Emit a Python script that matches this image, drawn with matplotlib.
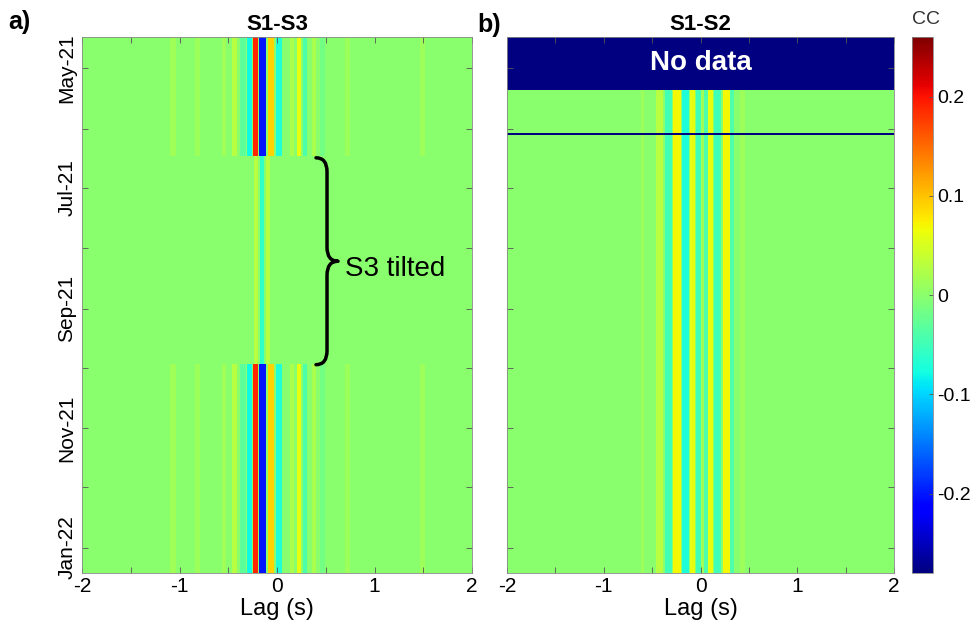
import numpy as np
import matplotlib
matplotlib.use('Agg')
import matplotlib.pyplot as plt
import matplotlib.dates as mdates
from matplotlib.path import Path
from matplotlib.patches import PathPatch
from matplotlib.ticker import MultipleLocator, FuncFormatter

plt.rcParams['font.family'] = ['Liberation Sans', 'DejaVu Sans']
plt.rcParams['axes.unicode_minus'] = False

# ---------------- data ----------------
cc_min, cc_max = -0.28, 0.26
lag_range = (-2.0, 2.0)

# Panel a (S1-S3): time segments and their lag profile type
a_segment_dates = ['2021-04-15', '2021-06-15', '2021-09-29', '2022-01-14']
a_segment_kind = ['normal', 'tilted', 'normal']

# stripes of the normal S1-S3 correlation: lag start, lag end (s), CC
a_normal_lo = [-1.10, -0.84, -0.56, -0.46, -0.38, -0.31, -0.25, -0.175, -0.09, -0.01, 0.13, 0.20, 0.27, 0.36, 0.44, 0.70, 1.47]
a_normal_hi = [-1.04, -0.79, -0.52, -0.41, -0.32, -0.26, -0.185, -0.11, -0.03, 0.05, 0.17, 0.25, 0.31, 0.40, 0.49, 0.75, 1.52]
a_normal_cc = [0.015, 0.012, 0.015, 0.03, -0.03, -0.08, 0.19, -0.20, 0.09, -0.07, 0.02, 0.06, -0.04, 0.02, -0.015, 0.012, 0.012]

# stripes while S3 was tilted
a_tilted_lo = [-0.24, -0.17, -0.11]
a_tilted_hi = [-0.19, -0.13, -0.07]
a_tilted_cc = [0.03, -0.06, 0.03]

# Panel b (S1-S2)
b_segment_dates = ['2021-04-15', '2021-05-12', '2021-06-03', '2021-06-04', '2022-01-14']
b_segment_kind = ['nodata', 'normal', 'nodata', 'normal']

b_normal_lo = [-0.62, -0.46, -0.37, -0.28, -0.19, -0.11, -0.05, 0.01, 0.04, 0.08, 0.14, 0.23, 0.31, 0.41]
b_normal_hi = [-0.58, -0.39, -0.29, -0.20, -0.12, -0.06, 0.00, 0.04, 0.08, 0.13, 0.21, 0.30, 0.35, 0.46]
b_normal_cc = [0.012, 0.03, -0.05, 0.07, -0.07, 0.06, -0.05, 0.015, -0.04, 0.06, -0.05, 0.07, -0.04, 0.012]

month_ticks = ['2021-05-01', '2021-06-01', '2021-07-01', '2021-08-01', '2021-09-01',
               '2021-10-01', '2021-11-01', '2021-12-01', '2022-01-01']
cbar_ticks = [-0.2, -0.1, 0, 0.1, 0.2]

# ---------------- build images ----------------
lag_edges = np.linspace(lag_range[0], lag_range[1], 401)
lag_centers = 0.5 * (lag_edges[:-1] + lag_edges[1:])


def profile(lo, hi, cc):
    v = np.zeros(lag_centers.size)
    for l, h, c in zip(lo, hi, cc):
        v[(lag_centers >= l) & (lag_centers < h)] = c
    return v


profiles_a = {'normal': profile(a_normal_lo, a_normal_hi, a_normal_cc),
              'tilted': profile(a_tilted_lo, a_tilted_hi, a_tilted_cc)}
profiles_b = {'normal': profile(b_normal_lo, b_normal_hi, b_normal_cc),
              'nodata': np.full(lag_centers.size, cc_min)}


def dnum(s):
    return mdates.datestr2num(s)


def build(dates, kinds, profiles):
    edges = np.array([dnum(d) for d in dates])
    C = np.vstack([profiles[k] for k in kinds])
    return edges, C


a_edges, a_C = build(a_segment_dates, a_segment_kind, profiles_a)
b_edges, b_C = build(b_segment_dates, b_segment_kind, profiles_b)

# ---------------- figure ----------------
fig = plt.figure(figsize=(9.72, 6.26), dpi=100)
W, H = 972.0, 626.0
top_px, bot_px = 37, 573
axa = fig.add_axes([82 / W, 1 - bot_px / H, 390 / W, (bot_px - top_px) / H])
axb = fig.add_axes([507 / W, 1 - bot_px / H, 387 / W, (bot_px - top_px) / H])
cax = fig.add_axes([912 / W, 1 - bot_px / H, 21 / W, (bot_px - top_px) / H])

tick_fs = 15
mesh = None
for ax, (edges, C), title in [(axa, (a_edges, a_C), 'S1-S3'), (axb, (b_edges, b_C), 'S1-S2')]:
    mesh = ax.pcolormesh(lag_edges, edges, C, cmap='jet', vmin=cc_min, vmax=cc_max, shading='flat')
    ax.set_xlim(*lag_range)
    ax.set_ylim(edges[-1], edges[0])
    ax.xaxis.set_major_locator(MultipleLocator(0.5))
    ax.xaxis.set_major_formatter(FuncFormatter(
        lambda v, p: ('%d' % round(v)) if abs(v - round(v)) < 1e-6 else ''))
    ax.set_yticks([dnum(m) for m in month_ticks])
    ax.tick_params(direction='in', length=4, width=0.6, top=True, right=True,
                   labelsize=tick_fs, color='#555555', pad=4)
    ax.tick_params(axis='x', pad=3)
    ax.set_xlabel('Lag (s)', fontsize=17, labelpad=1)
    ax.set_title(title, fontsize=16, fontweight='bold', pad=5)
    for s in ax.spines.values():
        s.set_color('#888888')
        s.set_linewidth(0.6)

axa.set_yticklabels([mdates.num2date(dnum(m)).strftime('%b-%y') if i % 2 == 0 else ''
                     for i, m in enumerate(month_ticks)], rotation=90, va='center')
axb.set_yticklabels([])

# annotations panel a: brace + text
may1 = dnum('2021-05-01')
def dy(px):
    return may1 + (px - 68) / 1.967

x0, x1, x2 = 0.40, 0.513, 0.626
verts = [(x0, dy(158)), (x1, dy(158)), (x1, dy(172)), (x1, dy(248)),
         (x1, dy(262)), (x2, dy(262)), (x1, dy(262)), (x1, dy(276)),
         (x1, dy(352)), (x1, dy(366)), (x0, dy(366))]
codes = [Path.MOVETO, Path.CURVE3, Path.CURVE3, Path.LINETO,
         Path.CURVE3, Path.CURVE3, Path.CURVE3, Path.CURVE3,
         Path.LINETO, Path.CURVE3, Path.CURVE3]
axa.add_patch(PathPatch(Path(verts, codes), facecolor='none', edgecolor='black',
                        lw=2.5, capstyle='round', joinstyle='round'))
axa.text(0.70, dy(270), 'S3 tilted', fontsize=20, ha='left', va='center')

# panel b: No data label
axb.text(0.0, 0.5 * (b_edges[0] + b_edges[1]), 'No data', color='white', fontsize=20,
         fontweight='bold', ha='center', va='center')

# panel letters
fig.text(8 / W, 1 - 22 / H, 'a)', fontsize=18, fontweight='bold', ha='left', va='center')
fig.text(477 / W, 1 - 25 / H, 'b)', fontsize=18, fontweight='bold', ha='left', va='center')

# colorbar
cb = fig.colorbar(mesh, cax=cax, ticks=cbar_ticks)
cb.ax.set_yticklabels(['%g' % t for t in cbar_ticks])
cb.ax.tick_params(direction='in', length=3, width=0.6, labelsize=14, color='#555555', pad=3)
cb.outline.set_edgecolor('#888888')
cb.outline.set_linewidth(0.6)
fig.text(926 / W, 1 - 19 / H, 'CC', fontsize=14, ha='center', va='center', color='#333333')

fig.savefig('out.png', dpi=100)
